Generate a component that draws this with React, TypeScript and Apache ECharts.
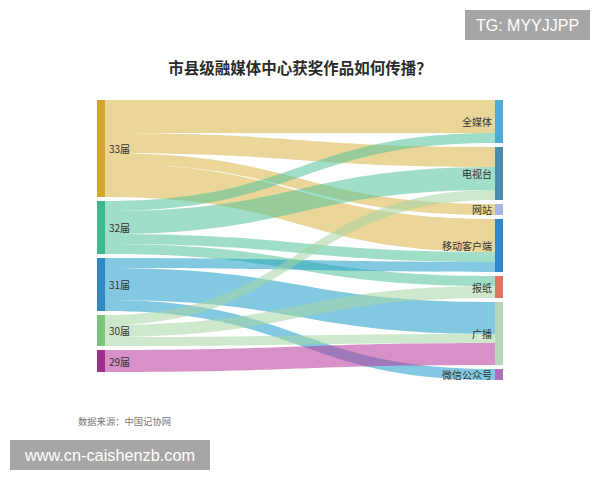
import React, { useEffect, useRef } from "react";
import * as echarts from "echarts";

const sessions = ["33届", "32届", "31届", "30届", "29届"];
const channels = ["全媒体", "电视台", "网站", "移动客户端", "报纸", "广播", "微信公众号"];

// [source, target, value]
const flows: [string, string, number][] = [
  ["33届", "全媒体", 33],
  ["33届", "电视台", 20],
  ["33届", "网站", 11],
  ["33届", "移动客户端", 33],
  ["32届", "全媒体", 10],
  ["32届", "电视台", 23],
  ["32届", "移动客户端", 10],
  ["32届", "报纸", 10],
  ["31届", "移动客户端", 10],
  ["31届", "广播", 32],
  ["31届", "微信公众号", 11],
  ["30届", "电视台", 10],
  ["30届", "报纸", 12],
  ["30届", "广播", 9],
  ["29届", "广播", 22],
];

const titleText = "市县级融媒体中心获奖作品如何传播？";
const sourceText = "数据来源：中国记协网";
const markTop = "TG: MYYJJPP";
const markBottom = "www.cn-caishenzb.com";

const nodeColors: Record<string, string> = {
  "33届": "#d4a72c",
  "32届": "#3fb88d",
  "31届": "#2e88c4",
  "30届": "#7cc47a",
  "29届": "#a02d8a",
  "全媒体": "#50aad7",
  "电视台": "#4b8caf",
  "网站": "#a5b4e1",
  "移动客户端": "#2d87c8",
  "报纸": "#e17360",
  "广播": "#b9d7be",
  "微信公众号": "#af6eb9",
};

const linkColors: Record<string, string> = {
  "33届": "#d9b446",
  "32届": "#52c39b",
  "31届": "#1e9bc8",
  "30届": "#a4d5a4",
  "29届": "#b6379b",
};

const FONT = '"Noto Sans CJK SC", "Noto Sans", sans-serif';

export default function App() {
  const ref = useRef<HTMLDivElement>(null);
  useEffect(() => {
    if (!ref.current) return;
    const chart = echarts.init(ref.current, null, { renderer: "svg" });
    const nodes = [
      ...sessions.map((n) => ({
        name: n,
        itemStyle: { color: nodeColors[n], borderWidth: 0 },
        label: { position: "right", distance: 4 },
      })),
      ...channels.map((n) => ({
        name: n,
        itemStyle: { color: nodeColors[n], borderWidth: 0 },
        label: { position: "left", distance: 3 },
      })),
    ];
    const links = flows.map(([s, t, v]) => ({
      source: s,
      target: t,
      value: v,
      lineStyle: { color: linkColors[s], opacity: 0.55 },
    }));
    chart.setOption({
      animation: false,
      backgroundColor: "#ffffff",
      title: {
        text: titleText,
        left: "center",
        top: 54,
        textStyle: {
          fontFamily: FONT,
          fontSize: 15.5,
          fontWeight: "bold",
          color: "#2a2a2a",
        },
      },
      series: [
        {
          type: "sankey",
          left: 97,
          right: 97,
          top: 100,
          bottom: 100,
          nodeWidth: 8,
          nodeGap: 4,
          layoutIterations: 0,
          draggable: false,
          emphasis: { disabled: true },
          data: nodes,
          links,
          label: {
            fontFamily: FONT,
            fontSize: 10,
            color: "#333",
          },
          lineStyle: { curveness: 0.5 },
        },
      ],
      graphic: [
        {
          type: "text",
          left: 78,
          top: 416,
          style: {
            text: sourceText,
            fontFamily: FONT,
            fontSize: 9.3,
            fill: "#777",
          },
        },
        {
          type: "rect",
          shape: { x: 465, y: 10, width: 125, height: 30 },
          style: { fill: "#a6a6a6" },
        },
        {
          type: "text",
          x: 527.5,
          y: 25,
          style: {
            text: markTop,
            fontFamily: '"Liberation Sans", Arial, sans-serif',
            fontSize: 16,
            fill: "#ffffff",
            align: "center",
            verticalAlign: "middle",
          },
        },
        {
          type: "rect",
          shape: { x: 10, y: 440, width: 200, height: 30 },
          style: { fill: "#a6a6a6" },
        },
        {
          type: "text",
          x: 110,
          y: 455,
          style: {
            text: markBottom,
            fontFamily: '"Liberation Sans", Arial, sans-serif',
            fontSize: 16.3,
            fill: "#ffffff",
            align: "center",
            verticalAlign: "middle",
          },
        },
      ],
    });
    return () => chart.dispose();
  }, []);
  return (
    <div
      ref={ref}
      style={{ position: "fixed", left: 0, top: 0, width: 600, height: 480 }}
    />
  );
}
